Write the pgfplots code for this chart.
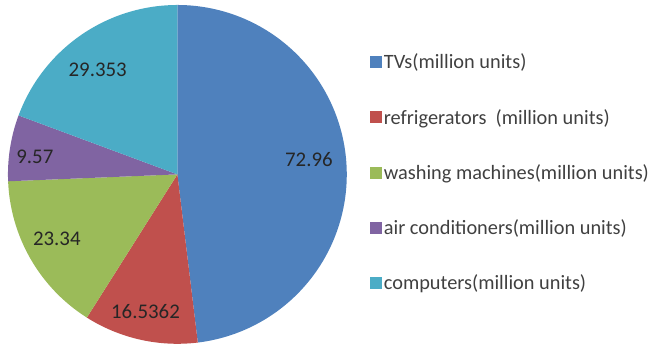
\documentclass[border=0pt]{standalone}
\usepackage{pgfplots}
\usepackage{pgfplotstable}
\pgfplotsset{compat=1.18}
\usepackage{fontspec}
\setmainfont{Carlito}
\definecolor{cA}{HTML}{4F81BD}
\definecolor{cB}{HTML}{C0504D}
\definecolor{cC}{HTML}{9BBB59}
\definecolor{cD}{HTML}{8064A2}
\definecolor{cE}{HTML}{4BACC6}
\definecolor{legtext}{HTML}{404040}
\pgfplotstableread{
idx value
0 72.96
1 16.5362
2 23.34
3 9.57
4 29.353
}\piedata
\newcommand\getv[2]{\pgfplotstablegetelem{#1}{value}\of\piedata\let#2\pgfplotsretval}
\begin{document}
\begin{tikzpicture}
\getv{0}\vA\getv{1}\vB\getv{2}\vC\getv{3}\vD\getv{4}\vE
\pgfmathsetmacro\tot{\vA+\vB+\vC+\vD+\vE}
\pgfmathsetmacro\aA{90}
\pgfmathsetmacro\aB{\aA-360*(\vA/\tot)}
\pgfmathsetmacro\aC{\aB-360*(\vB/\tot)}
\pgfmathsetmacro\aD{\aC-360*(\vC/\tot)}
\pgfmathsetmacro\aE{\aD-360*(\vD/\tot)}
\pgfmathsetmacro\aF{\aE-360*(\vE/\tot)}
\def\cx{178}\def\cy{172}\def\R{170}
\begin{axis}[
  width=651bp, height=347bp, scale only axis,
  xmin=0, xmax=651, ymin=0, ymax=347,
  hide axis, clip=false,
  legend cell align=left,
  legend image code/.code={\fill[#1] (0bp,-6bp) rectangle (12bp,6bp);},
  legend style={at={(axis cs:371,295)}, anchor=north west, draw=none, fill=none,
    font=\fontsize{20.5}{23}\selectfont\color{legtext}, row sep=35bp,
    inner sep=0pt, nodes={inner xsep=2pt}},
]
\path (rel axis cs:0,0) rectangle (rel axis cs:1,1);
\addplot[fill=cA, draw=none, domain=\aB:\aA, samples=120] ({\cx+\R*cos(x)},{\cy+\R*sin(x)}) -- (axis cs:\cx,\cy) -- cycle;
\addlegendentry{TVs(million units)}
\addplot[fill=cB, draw=none, domain=\aC:\aB, samples=40] ({\cx+\R*cos(x)},{\cy+\R*sin(x)}) -- (axis cs:\cx,\cy) -- cycle;
\addlegendentry{refrigerators\ \ (million units)}
\addplot[fill=cC, draw=none, domain=\aD:\aC, samples=50] ({\cx+\R*cos(x)},{\cy+\R*sin(x)}) -- (axis cs:\cx,\cy) -- cycle;
\addlegendentry{washing machines(million units)}
\addplot[fill=cD, draw=none, domain=\aE:\aD, samples=30] ({\cx+\R*cos(x)},{\cy+\R*sin(x)}) -- (axis cs:\cx,\cy) -- cycle;
\addlegendentry{air conditioners(million units)}
\addplot[fill=cE, draw=none, domain=\aF:\aE, samples=60] ({\cx+\R*cos(x)},{\cy+\R*sin(x)}) -- (axis cs:\cx,\cy) -- cycle;
\addlegendentry{computers(million units)}
\begin{scope}[every node/.style={font=\fontsize{21}{24}\selectfont, text=black!85}]
\node at (axis cs:310,187) {72.96};
\node at (axis cs:146,34) {16.5362};
\node at (axis cs:57,107) {23.34};
\node at (axis cs:35,190) {9.57};
\node at (axis cs:98,277) {29.353};
\end{scope}
\end{axis}
\end{tikzpicture}
\end{document}
